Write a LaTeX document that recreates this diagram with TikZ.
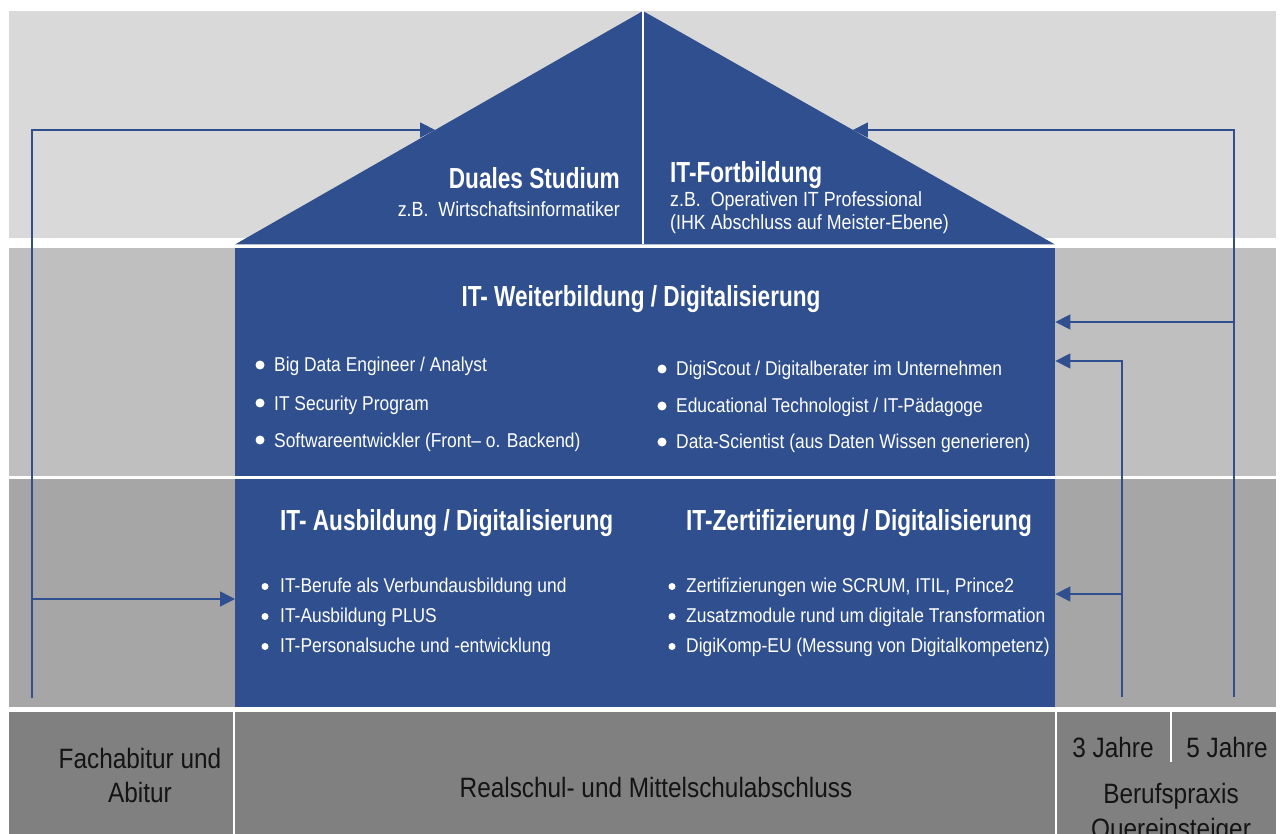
\documentclass[tikz,border=0pt]{standalone}
\usepackage{fontspec}
\setmainfont{Liberation Sans}[FakeStretch=0.87]
\newfontfamily\kopffont{Liberation Sans}[FakeStretch=0.78]
\usetikzlibrary{arrows.meta, positioning, calc}
\definecolor{hausblau}{RGB}{47,79,143}
\definecolor{grauA}{RGB}{217,217,217}
\definecolor{grauB}{RGB}{191,191,191}
\definecolor{grauC}{RGB}{166,166,166}
\definecolor{grauD}{RGB}{128,128,128}
\definecolor{schrift}{RGB}{20,20,20}
\tikzset{
  haus/.style    = {fill=hausblau, inner sep=0pt, minimum width=820pt},
  kopf/.style    = {text=white, inner sep=0pt,
                    font=\kopffont\bfseries\fontsize{29}{31}\selectfont},
  klein/.style   = {text=white, inner sep=0pt, font=\fontsize{20.5}{24}\selectfont},
  eintrag/.style = {text=white, inner sep=0pt, anchor=base west,
                    font=\fontsize{20}{24}\selectfont},
  punkt/.style   = {circle, fill=white, inner sep=0pt, minimum size=9pt},
  sockel/.style  = {text=schrift, inner sep=0pt, align=center,
                    font=\fontsize{28}{34}\selectfont},
  pfeil/.style   = {-{Triangle[length=15pt,width=15pt]}, line width=1.5pt, draw=hausblau},
}

\begin{document}
\begin{tikzpicture}[x=1pt, y=-1pt]
\clip (0,0) rectangle (1286,834);
\fill[white] (0,0) rectangle (1286,834);
% Hintergrundbaender
\fill[grauA] (9,11) rectangle (1276,238);
\fill[grauB] (9,248) rectangle (1276,475.5);
\fill[grauC] (9,478.5) rectangle (1276,706.5);
\fill[grauD] (9,712) rectangle (232.5,840);
\fill[grauD] (235,712) rectangle (1054.5,840);
\fill[grauD] (1057,712) rectangle (1276,840);
\draw[white, line width=2pt] (1171,712) -- (1171,762);

% Dach
\coordinate (dl) at (235,244.5);
\coordinate (dr) at (1055,244.5);
\coordinate (first) at (643,11);
\fill[hausblau] (dl) -- (first) -- (dr) -- cycle;
\draw[white, line width=2pt] (first) -- (643,244.5);
\coordinate (dachL) at ($(dl)!0.4904!(first)$);
\coordinate (dachR) at ($(dr)!0.4904!(first)$);

% Hauskoerper
\node[haus, minimum height=227.8pt, anchor=north west] (weiter) at (235,247.5) {};
\node[haus, minimum height=228pt, anchor=north west] (aus) at (235,478.7) {};

% Dachtexte
\node[kopf, anchor=base east] (duales) at (620,189) {Duales Studium};
\node[klein, anchor=base east] (duales-bsp) at (620,217) {z.B.\ \ Wirtschaftsinformatiker};
\node[kopf, anchor=base west] (fortb) at (670,183) {IT-Fortbildung};
\node[klein, anchor=base west] (fortb-bsp) at (670,207) {z.B.\ \ Operativen IT Professional};
\node[klein, anchor=base west] (fortb-ihk) at (670,230) {(IHK Abschluss auf Meister-Ebene)};

% Weiterbildung
\node[kopf, anchor=base] (weiter-titel) at (641,307) {IT- Weiterbildung / Digitalisierung};
\foreach \i/\y/\txt in {
    1/372/{Big Data Engineer / Analyst},
    2/410/{IT Security Program},
    3/447/{Softwareentwickler (Front– o. Backend)}
}{
    \node[punkt] (wlp\i) at (260,\y-7) {};
    \node[eintrag] (wl\i) at (274,\y) {\txt};
}
\foreach \i/\y/\txt in {
    1/376/{DigiScout / Digitalberater im Unternehmen},
    2/413/{Educational Technologist / IT-Pädagoge},
    3/449/{Data-Scientist (aus Daten Wissen generieren)}
}{
    \node[punkt] (wrp\i) at (662,\y-7) {};
    \node[eintrag] (wr\i) at (676,\y) {\txt};
}

% Ausbildung und Zertifizierung
\node[kopf, anchor=base west] (aus-titel) at (280,530) {IT- Ausbildung / Digitalisierung};
\node[kopf, anchor=base west] (zert-titel) at (686,530) {IT-Zertifizierung / Digitalisierung};
\foreach \i/\y/\txt in {
    1/592/{IT-Berufe als Verbundausbildung und},
    2/622/{IT-Ausbildung PLUS},
    3/652/{IT-Personalsuche und -entwicklung}
}{
    \node[punkt, minimum size=7pt] (alp\i) at (265,\y-5.5) {};
    \node[eintrag] (al\i) at (280,\y) {\txt};
}
\foreach \i/\y/\txt in {
    1/592/{Zertifizierungen wie SCRUM, ITIL, Prince2},
    2/622/{Zusatzmodule rund um digitale Transformation},
    3/652/{DigiKomp-EU (Messung von Digitalkompetenz)}
}{
    \node[punkt, minimum size=7pt] (zrp\i) at (672,\y-5.5) {};
    \node[eintrag] (zr\i) at (686,\y) {\txt};
}

% Sockel (base = letzte Zeile)
\node[sockel, anchor=base] (abi) at (140,802) {Fachabitur und\\Abitur};
\node[sockel, anchor=base] (real) at (656,797) {Realschul- und Mittelschulabschluss};
\node[sockel, anchor=base] (jahre3) at (1113,757) {3 Jahre};
\node[sockel, anchor=base] (jahre5) at (1227,757) {5 Jahre};
\node[sockel, anchor=base, font=\fontsize{28}{35}\selectfont] (praxis) at (1171,838) {Berufspraxis\\Quereinsteiger};

% Pfeile
\coordinate (lu) at (32,698);
\coordinate (la) at (32,599);
\draw[pfeil] (lu) |- (dachL);
\draw[pfeil] (la) -- (la -| aus.west);
\coordinate (ru) at (1234,697);
\coordinate (rb) at (1234,322);
\draw[pfeil] (ru) |- (dachR);
\draw[pfeil] (rb) -- (rb -| weiter.east);
\coordinate (iu) at (1122,697);
\coordinate (io) at (1122,361);
\coordinate (ib) at (1122,594);
\draw[pfeil] (iu) |- (io -| weiter.east);
\draw[pfeil] (ib) -- (ib -| aus.east);
\end{tikzpicture}
\end{document}
